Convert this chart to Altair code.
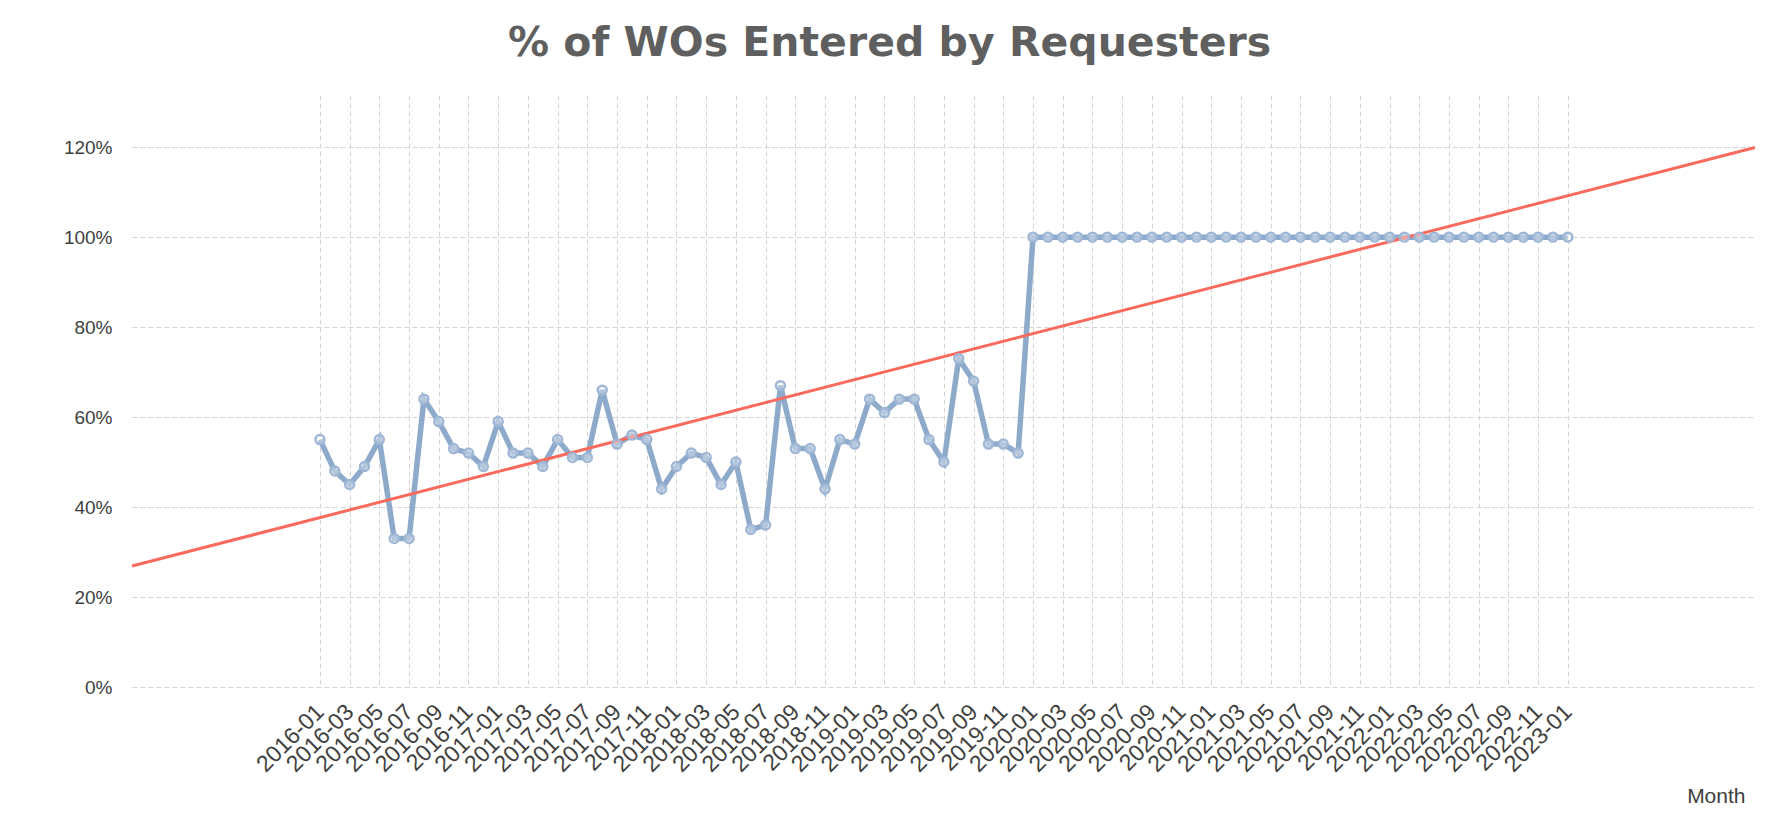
import altair as alt
import pandas as pd

months = [
    "2016-01", "2016-02", "2016-03", "2016-04", "2016-05", "2016-06", "2016-07", "2016-08", "2016-09", "2016-10", "2016-11", "2016-12",
    "2017-01", "2017-02", "2017-03", "2017-04", "2017-05", "2017-06", "2017-07", "2017-08", "2017-09", "2017-10", "2017-11", "2017-12",
    "2018-01", "2018-02", "2018-03", "2018-04", "2018-05", "2018-06", "2018-07", "2018-08", "2018-09", "2018-10", "2018-11", "2018-12",
    "2019-01", "2019-02", "2019-03", "2019-04", "2019-05", "2019-06", "2019-07", "2019-08", "2019-09", "2019-10", "2019-11", "2019-12",
    "2020-01", "2020-02", "2020-03", "2020-04", "2020-05", "2020-06", "2020-07", "2020-08", "2020-09", "2020-10", "2020-11", "2020-12",
    "2021-01", "2021-02", "2021-03", "2021-04", "2021-05", "2021-06", "2021-07", "2021-08", "2021-09", "2021-10", "2021-11", "2021-12",
    "2022-01", "2022-02", "2022-03", "2022-04", "2022-05", "2022-06", "2022-07", "2022-08", "2022-09", "2022-10", "2022-11", "2022-12",
    "2023-01",
]

pct_requesters = [
    55, 48, 45, 49, 55, 33, 33, 64, 59, 53, 52, 49,
    59, 52, 52, 49, 55, 51, 51, 66, 54, 56, 55, 44,
    49, 52, 51, 45, 50, 35, 36, 67, 53, 53, 44, 55,
    54, 64, 61, 64, 64, 55, 50, 73, 68, 54, 54, 52,
    100, 100, 100, 100, 100, 100, 100, 100, 100, 100, 100, 100,
    100, 100, 100, 100, 100, 100, 100, 100, 100, 100, 100, 100,
    100, 100, 100, 100, 100, 100, 100, 100, 100, 100, 100, 100,
    100,
]

y_ticks = [0, 0.2, 0.4, 0.6, 0.8, 1.0, 1.2]

df = pd.DataFrame({
    "idx": list(range(len(months))),
    "month": months,
    "pct": [p / 100 for p in pct_requesters],
})

tick_idx = list(range(0, len(months), 2))
tick_labels = [months[i] for i in tick_idx]
label_expr = "[" + ",".join("'%s'" % m for m in tick_labels) + "][round(datum.value / 2)]"

X_DOMAIN = [-12.65, 96.6]
Y_DOMAIN = [0, 1.316]

LABEL_FONT = "'Liberation Sans Narrow', 'Liberation Sans', Arial, sans-serif"
GRID_COLOR = "#d4d4d4"
GRID_DASH = [5, 3]

x_enc = alt.X(
    "idx:Q",
    scale=alt.Scale(domain=X_DOMAIN, nice=False, zero=False),
    axis=alt.Axis(
        values=tick_idx,
        tickCount=500,
        labelExpr=label_expr,
        labelAngle=-45,
        labelAlign="right",
        labelBaseline="middle",
        labelPadding=21,
        labelOverlap=False,
        labelFlush=False,
        labelBound=False,
        labelFont=LABEL_FONT,
        labelFontSize=23,
        labelColor="#404040",
        domain=False,
        ticks=False,
        grid=True,
        gridColor=GRID_COLOR,
        gridDash=GRID_DASH,
        title="Month",
        titleFont=LABEL_FONT,
        titleFontSize=21,
        titleFontWeight="normal",
        titleColor="#404040",
        titleAnchor="end",
        titleAlign="right",
        titleBaseline="alphabetic",
        titleX=1613,
        titleY=115,
    ),
)

y_enc = alt.Y(
    "pct:Q",
    scale=alt.Scale(domain=Y_DOMAIN, nice=False),
    axis=alt.Axis(
        values=y_ticks,
        format=".0%",
        domain=False,
        ticks=False,
        labelPadding=20,
        labelFont=LABEL_FONT,
        labelFontSize=19,
        labelColor="#404040",
        grid=True,
        gridColor=GRID_COLOR,
        gridDash=GRID_DASH,
        title=None,
    ),
)

base = alt.Chart(df)

line = base.mark_line(color="#8eaacb", strokeWidth=5.5).encode(x=x_enc, y=y_enc)

points = base.mark_point(
    shape="circle", size=80, filled=True, fill="#ffffff", fillOpacity=0.35,
    stroke="#9fb7d5", strokeWidth=2.5, opacity=1,
).encode(x="idx:Q", y="pct:Q")

trend = base.transform_regression(
    "idx", "pct", method="linear", extent=X_DOMAIN
).mark_line(color="#fa6a5c", strokeWidth=3).encode(x="idx:Q", y="pct:Q")

chart = alt.layer(line, trend, points).properties(
    width=1623,
    height=592,
    autosize=alt.AutoSizeParams(type="none"),
    padding={"left": 124, "top": 87, "right": 16, "bottom": 123},
    title=alt.TitleParams(
        text="% of WOs Entered by Requesters",
        font="DejaVu Sans",
        fontSize=41,
        fontWeight="bold",
        color="#5f5f5f",
        anchor="middle",
        dx=-54,
        offset=30,
    ),
).configure_view(stroke=None)

chart.save("out.html", embed_options={"renderer": "svg", "actions": False})
